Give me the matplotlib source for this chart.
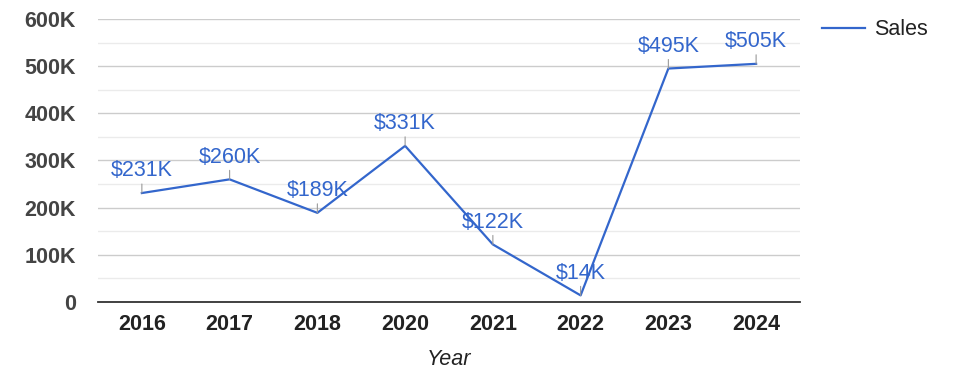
import matplotlib
matplotlib.use("Agg")
import matplotlib.pyplot as plt
import matplotlib.ticker as mticker
import numpy as np

# ── data ─────────────────────────────────────────────────────────────────────
YEARS = ["2016", "2017", "2018", "2020", "2021", "2022", "2023", "2024"]
SALES = [231, 260, 189, 331, 122, 14, 495, 505]          # thousands
LABELS = ["$231K", "$260K", "$189K", "$331K", "$122K", "$14K", "$495K", "$505K"]
Y_TICKS = [0, 100, 200, 300, 400, 500, 600]
Y_TICK_LABELS = ["0", "100K", "200K", "300K", "400K", "500K", "600K"]

# ── style ────────────────────────────────────────────────────────────────────
LINE_BLUE = "#3366cc"
plt.rcParams.update({
    "font.family": ["Liberation Sans", "DejaVu Sans"],
})

fig = plt.figure(figsize=(9.75, 3.78), dpi=100)
ax = fig.add_axes([0.1005, 0.2011, 0.72, 0.7486])

x = np.arange(len(YEARS))
ax.plot(x, SALES, color=LINE_BLUE, linewidth=1.6, label="Sales", zorder=3)

# value labels with a short grey stem
for xi, v, lab in zip(x, SALES, LABELS):
    ax.annotate(lab, xy=(xi, v), xytext=(0, 8.5), textcoords="offset points",
                ha="center", va="bottom", fontsize=15.5, color=LINE_BLUE,
                arrowprops=dict(arrowstyle="-", color="#999999", lw=0.8,
                                shrinkA=0, shrinkB=0),
                zorder=4)

# ── axes / grid ──────────────────────────────────────────────────────────────
ax.set_xlim(-0.5, len(YEARS) - 0.5)
ax.set_ylim(0, 600)
ax.set_xticks(x)
ax.set_xticklabels(YEARS, fontsize=15.5, fontweight="bold", color="#222222")
ax.set_yticks(Y_TICKS)
ax.set_yticklabels(Y_TICK_LABELS, fontsize=15.5, fontweight="bold", color="#444444")
ax.yaxis.set_minor_locator(mticker.MultipleLocator(50))
ax.tick_params(axis="both", which="both", length=0)
ax.tick_params(axis="y", pad=16)
ax.tick_params(axis="x", pad=9)

ax.grid(axis="y", which="major", color="#cccccc", linewidth=1.0, zorder=0)
ax.grid(axis="y", which="minor", color="#ebebeb", linewidth=1.0, zorder=0)
for side in ("top", "right", "left"):
    ax.spines[side].set_visible(False)
ax.spines["bottom"].set_color("#333333")
ax.spines["bottom"].set_linewidth(1.3)
ax.spines["bottom"].set_zorder(5)

ax.set_xlabel("Year", fontsize=15.5, style="italic", color="#222222", labelpad=10)

ax.legend(loc="center left", bbox_to_anchor=(0.843, 0.921),
          bbox_transform=fig.transFigure, frameon=False, fontsize=15.5,
          handlelength=2.0, handletextpad=0.4, borderpad=0, borderaxespad=0)
for t in ax.get_legend().get_texts():
    t.set_color("#222222")

fig.savefig("out.png", dpi=100)
